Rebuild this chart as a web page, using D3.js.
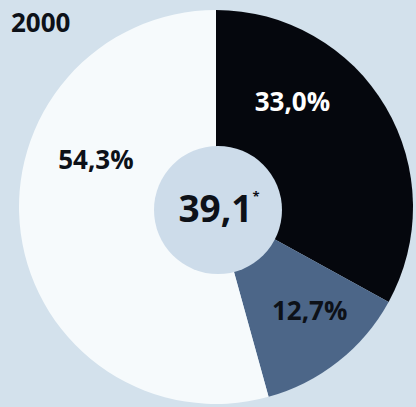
<!DOCTYPE html>
<html><head><meta charset="utf-8">
<script src="https://cdn.jsdelivr.net/npm/d3@7"></script>
<style>
html,body{margin:0;padding:0;background:#d3e1ec;}
svg{display:block;}
text{font-family:"Open Sans","Noto Sans",sans-serif;font-weight:700;}
</style></head>
<body>
<svg id="c" width="416" height="407"></svg>
<script>
const title = "2000";
const categories = ["A", "B", "C"];
const values = [33.0, 12.7, 54.3];
const labels = ["33,0%", "12,7%", "54,3%"];
const centerValue = "39,1";
const centerNote = "*";

const colors = ["#05070d", "#4c6688", "#f6fafc"];
const labelColors = ["#ffffff", "#0d1118", "#0d1118"];
// label placement: angle (deg, clockwise from top) and radius
const labelAngle = [36, 138, 291.4];
const labelRadius = [130, 140, 129];

const W = 416, H = 407;
const cx = 216, cy = 207, rOuter = 197, rInner = 64;
const svg = d3.select("#c");
svg.append("rect").attr("width", W).attr("height", H).attr("fill", "#d3e1ec");

const pie = d3.pie().sort(null).value(d => d)(values);
const arc = d3.arc().innerRadius(0).outerRadius(rOuter);
const g = svg.append("g").attr("transform", `translate(${cx},${cy})`);
g.selectAll("path").data(pie).join("path")
  .attr("d", arc).attr("fill", (d, i) => colors[i]);

g.append("circle").attr("cx", 2).attr("cy", 3).attr("r", rInner).attr("fill", "#cddcea");

g.selectAll("text.lab").data(pie).join("text").attr("class", "lab")
  .attr("x", (d, i) => labelRadius[i] * Math.sin(labelAngle[i] * Math.PI / 180))
  .attr("y", (d, i) => -labelRadius[i] * Math.cos(labelAngle[i] * Math.PI / 180))
  .attr("dy", "0.36em")
  .attr("text-anchor", "middle")
  .attr("font-size", 26)
  .attr("fill", (d, i) => labelColors[i])
  .text((d, i) => labels[i]);

const ct = g.append("text").attr("x", 3).attr("y", 15)
  .attr("text-anchor", "middle").attr("font-size", 37).attr("fill", "#0d1118");
ct.append("tspan").text(centerValue);
ct.append("tspan").attr("font-size", 13).attr("dy", -21).text(centerNote);

svg.append("text").attr("x", 11).attr("y", 32).attr("font-size", 26)
  .attr("fill", "#0d1118").text(title);
</script>
</body></html>
